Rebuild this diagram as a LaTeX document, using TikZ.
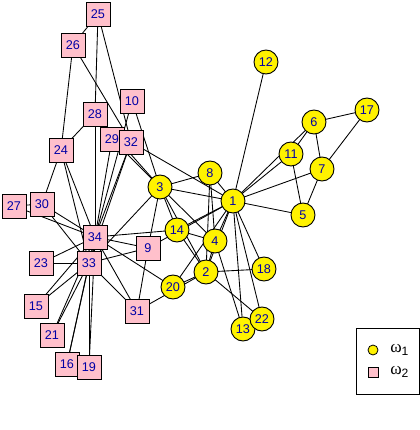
\documentclass[tikz,border=0pt]{standalone}
\usepackage{fontspec}
\setmainfont{Liberation Sans}
\newfontfamily\seriffont{Liberation Serif}
\usetikzlibrary{backgrounds}
\definecolor{lbl}{RGB}{0,0,165}
\definecolor{pinkf}{RGB}{255,192,203}
\begin{document}
\begin{tikzpicture}[x=0.75pt,y=-0.75pt,
  cnode/.style={circle,draw,fill=yellow,minimum size=18pt,inner sep=0pt,text=lbl,font=\fontsize{9.5}{10}\selectfont,line width=0.7pt},
  snode/.style={rectangle,draw,fill=pinkf,minimum size=18pt,inner sep=0pt,text=lbl,font=\fontsize{9.5}{10}\selectfont,line width=0.7pt},
  edge/.style={line width=0.65pt},
  legtext/.style={anchor=west,inner sep=0pt,font=\fontsize{13}{15}\seriffont}]
\useasboundingbox (0,0) rectangle (420,430);
\node[cnode] (n1) at (233,201) {1};
\node[cnode] (n2) at (206,272) {2};
\node[cnode] (n3) at (160,187) {3};
\node[cnode] (n4) at (215,241) {4};
\node[cnode] (n5) at (303,215) {5};
\node[cnode] (n6) at (314,122) {6};
\node[cnode] (n7) at (322,169) {7};
\node[cnode] (n8) at (210,173) {8};
\node[snode] (n9) at (148,248) {9};
\node[snode] (n10) at (132,101) {10};
\node[cnode] (n11) at (291,154) {11};
\node[cnode] (n12) at (266,62) {12};
\node[cnode] (n13) at (243,329) {13};
\node[cnode] (n14) at (177,230) {14};
\node[snode] (n15) at (36,306) {15};
\node[snode] (n16) at (67,364) {16};
\node[cnode] (n17) at (367,110) {17};
\node[cnode] (n18) at (264,269) {18};
\node[snode] (n19) at (89,367) {19};
\node[cnode] (n20) at (173,287) {20};
\node[snode] (n21) at (52,335) {21};
\node[cnode] (n22) at (262,319) {22};
\node[snode] (n23) at (41,263) {23};
\node[snode] (n24) at (61,150) {24};
\node[snode] (n25) at (98,14) {25};
\node[snode] (n26) at (73,45) {26};
\node[snode] (n27) at (14,206) {27};
\node[snode] (n28) at (95,114) {28};
\node[snode] (n29) at (112,139) {29};
\node[snode] (n30) at (42,204) {30};
\node[snode] (n31) at (137,311) {31};
\node[snode] (n32) at (131,142) {32};
\node[snode] (n33) at (89,263) {33};
\node[snode] (n34) at (95,237) {34};
\begin{pgfonlayer}{background}
\foreach \a/\b in {1/2,1/3,1/4,1/5,1/6,1/7,1/8,1/9,1/11,1/12,1/13,1/14,1/18,1/20,1/22,1/32,
  2/3,2/4,2/8,2/14,2/18,2/20,2/22,2/31,
  3/4,3/8,3/9,3/10,3/14,3/28,3/29,3/33,
  4/8,4/13,4/14,5/7,5/11,6/7,6/11,6/17,7/17,
  9/31,9/33,9/34,10/34,14/34,15/33,15/34,16/33,16/34,19/33,19/34,20/34,21/33,21/34,
  23/33,23/34,24/26,24/28,24/30,24/33,24/34,25/26,25/28,25/32,26/32,27/30,27/34,
  28/34,29/32,29/34,30/33,30/34,31/33,31/34,32/33,32/34,33/34}
  \draw[edge] (n\a.center) -- (n\b.center);
\end{pgfonlayer}
% legend
\node[draw,line width=0.7pt,minimum width=47.25pt,minimum height=49.5pt,inner sep=0pt] (legend) at (387.5,361) {};
\node[circle,draw,fill=yellow,minimum size=7.5pt,inner sep=0pt,line width=0.6pt] (lc) at (373,350) {};
\node[legtext] (lt1) at (390,350) {ω\textsubscript{\fontspec{Liberation Sans}1}};
\node[rectangle,draw,fill=pinkf,minimum size=7.5pt,inner sep=0pt,line width=0.6pt] (ls) at (373,372) {};
\node[legtext] (lt2) at (390,372) {ω\textsubscript{\fontspec{Liberation Sans}2}};
\end{tikzpicture}
\end{document}
